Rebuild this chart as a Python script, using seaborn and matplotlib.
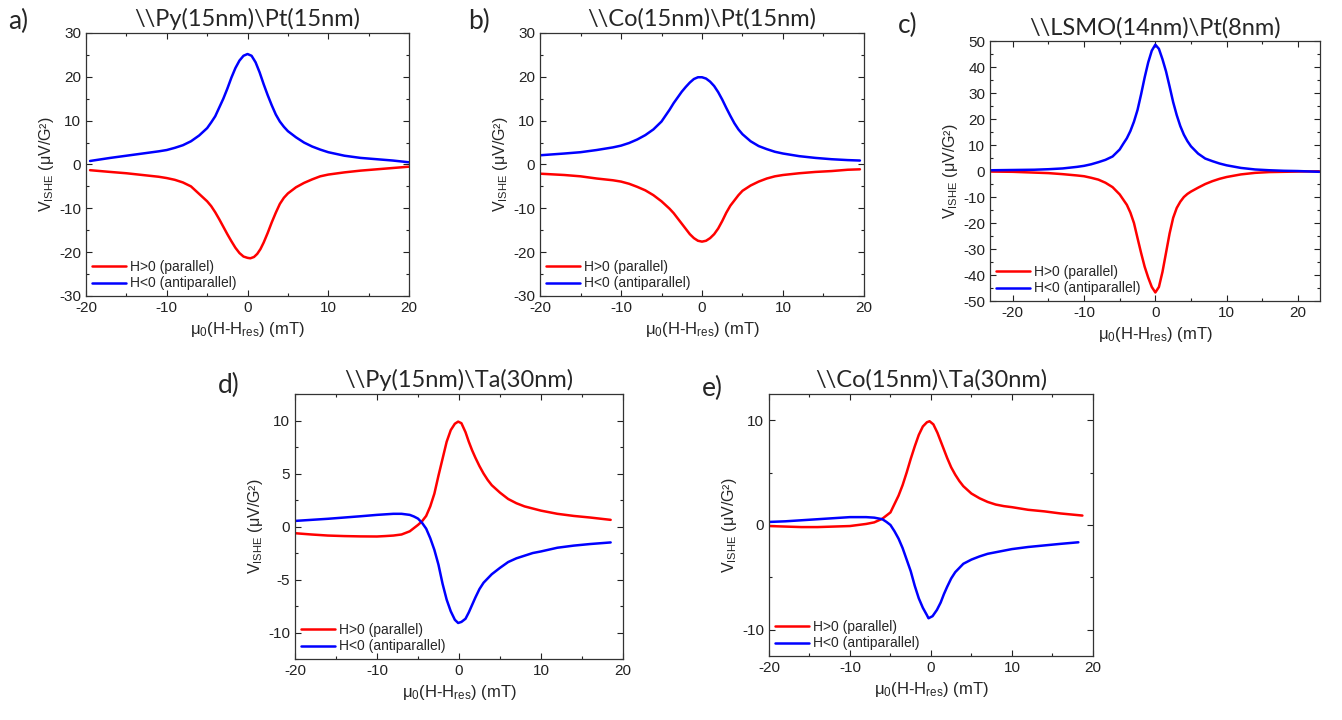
import pandas as pd
import seaborn as sns
import matplotlib.pyplot as plt
from matplotlib.ticker import MultipleLocator

# ---- data (x in mT, y in uV/G^2) ----
# a) Py(15nm)/Pt(15nm)
a_x_par = [-19.5, -17, -15, -13, -11, -10, -9, -8, -7, -6, -5, -4.5, -4, -3.5, -3, -2.5, -2, -1.5, -1, -0.5,
           0, 0.35, 0.8, 1.2, 1.6, 2, 2.5, 3, 3.5, 4, 4.5, 5, 6, 7, 8, 9, 10, 12, 14, 16, 18, 20]
a_par = [-1.3, -1.7, -2.0, -2.4, -2.8, -3.1, -3.5, -4.1, -5.0, -6.7, -8.4, -9.5, -10.9, -12.5, -14.2, -15.9,
         -17.5, -19.0, -20.2, -21.0, -21.3, -21.4, -21.1, -20.4, -19.3, -17.8, -15.6, -13.2, -11.0, -9.0,
         -7.6, -6.6, -5.2, -4.2, -3.4, -2.7, -2.3, -1.8, -1.4, -1.1, -0.8, -0.5]
a_x_anti = [-19.5, -17, -15, -13, -11, -10, -9, -8, -7, -6, -5, -4.5, -4, -3.5, -3, -2.5, -2, -1.5, -1, -0.5,
            0, 0.5, 1, 1.5, 2, 2.5, 3, 3.5, 4, 4.5, 5, 6, 7, 8, 9, 10, 12, 14, 16, 18, 20]
a_anti = [0.8, 1.5, 2.0, 2.5, 3.0, 3.3, 3.8, 4.4, 5.3, 6.6, 8.3, 9.6, 11.0, 13.0, 15.0, 17.3, 19.8, 22.0, 23.7,
          24.8, 25.2, 24.8, 23.3, 21.0, 18.3, 15.8, 13.5, 11.4, 9.8, 8.6, 7.6, 6.2, 5.0, 4.1, 3.4, 2.8, 2.0,
          1.5, 1.2, 0.9, 0.5]

# b) Co(15nm)/Pt(15nm)
b_x = [-20, -17, -15, -13, -11, -10, -9, -8, -7, -6, -5, -4, -3.5, -3, -2.5, -2, -1.5, -1, -0.5, 0,
       0.5, 1, 1.5, 2, 2.5, 3, 3.5, 4, 4.5, 5, 6, 7, 8, 9, 10, 12, 14, 16, 18, 19.5]
b_par = [-2.1, -2.4, -2.7, -3.2, -3.6, -3.9, -4.4, -5.1, -5.9, -7.0, -8.4, -10.1, -11.1, -12.3, -13.5, -14.7,
         -15.9, -16.8, -17.4, -17.6, -17.4, -16.8, -15.9, -14.6, -12.9, -11.0, -9.4, -8.2, -7.0, -6.0, -4.8,
         -3.9, -3.2, -2.7, -2.4, -2.0, -1.7, -1.5, -1.2, -1.1]
b_anti = [2.1, 2.5, 2.8, 3.3, 3.9, 4.3, 4.9, 5.7, 6.7, 8.0, 9.8, 12.5, 14.0, 15.3, 16.6, 17.7, 18.7, 19.5,
          19.9, 19.9, 19.6, 18.9, 17.9, 16.5, 14.8, 12.9, 11.1, 9.4, 8.0, 6.9, 5.3, 4.2, 3.5, 2.9, 2.5, 1.9,
          1.5, 1.2, 1.0, 0.9]

# c) LSMO(14nm)/Pt(8nm)
c_x = [-23, -20, -17, -15, -13, -11, -10, -9, -8, -7, -6, -5, -4.5, -4, -3.5, -3, -2.5, -2, -1.5, -1, -0.5,
       0, 0.5, 1, 1.5, 2, 2.5, 3, 3.5, 4, 4.5, 5, 6, 7, 8, 9, 10, 12, 14, 16, 18, 20, 23]
c_par = [-0.2, -0.3, -0.6, -0.8, -1.2, -1.7, -2.0, -2.6, -3.3, -4.5, -6.2, -9.0, -11.0, -13.0, -16.0, -20.0,
         -25.8, -31.5, -36.8, -41.0, -44.6, -46.7, -44.6, -38.8, -31.4, -24.0, -18.0, -14.2, -11.8, -10.0,
         -8.8, -7.9, -6.4, -5.0, -3.9, -3.0, -2.3, -1.3, -0.7, -0.4, -0.3, -0.2, -0.1]
c_anti = [0.3, 0.4, 0.5, 0.7, 1.0, 1.6, 2.0, 2.6, 3.4, 4.3, 5.6, 8.3, 10.5, 12.6, 15.4, 19.0, 23.5, 29.5,
          36.0, 41.8, 46.3, 48.6, 47.0, 43.0, 38.3, 32.5, 26.5, 21.5, 17.3, 14.0, 11.5, 9.5, 6.7, 4.8, 3.8,
          2.9, 2.2, 1.2, 0.6, 0.3, 0.1, 0.0, -0.3]

# d) Py(15nm)/Ta(30nm)
d_x = [-20, -18, -16, -14, -12, -10, -9, -8, -7, -6, -5.5, -5, -4.5, -4, -3.5, -3, -2.5, -2, -1.5, -1, -0.5,
       -0.1, 0.3, 0.8, 1.2, 1.6, 2, 2.5, 3, 3.5, 4, 5, 6, 7, 8, 9, 10, 12, 14, 16, 18.5]
d_par = [-0.63, -0.75, -0.85, -0.9, -0.93, -0.94, -0.9, -0.85, -0.75, -0.45, -0.15, 0.15, 0.5, 1.0, 1.9, 3.1,
         4.8, 6.4, 8.0, 9.1, 9.7, 9.9, 9.75, 8.9, 8.0, 7.2, 6.5, 5.7, 5.0, 4.4, 3.9, 3.2, 2.6, 2.2, 1.9, 1.7,
         1.5, 1.2, 1.0, 0.85, 0.63]
d_anti = [0.53, 0.63, 0.73, 0.85, 0.97, 1.1, 1.15, 1.2, 1.2, 1.1, 0.95, 0.75, 0.35, -0.2, -1.1, -2.2, -3.6,
          -5.4, -6.9, -8.0, -8.8, -9.1, -9.0, -8.7, -8.1, -7.4, -6.7, -5.9, -5.3, -4.9, -4.5, -3.9, -3.35,
          -3.0, -2.75, -2.5, -2.35, -2.0, -1.8, -1.65, -1.5]

# e) Co(15nm)/Ta(30nm)
e_x_par = [-20, -18, -16, -14, -12, -10, -9, -8, -7, -6, -5.5, -5, -4.5, -4, -3.5, -3, -2.5, -2, -1.5, -1,
           -0.5, -0.17, 0.3, 0.8, 1.2, 1.6, 2, 2.5, 3, 3.5, 4, 5, 6, 7, 8, 9, 10, 12, 14, 16, 18.7]
e_par = [-0.1, -0.15, -0.2, -0.2, -0.15, -0.1, 0.0, 0.1, 0.25, 0.6, 0.9, 1.2, 2.0, 2.8, 3.8, 5.0, 6.3, 7.5,
         8.6, 9.4, 9.8, 9.9, 9.6, 8.8, 8.0, 7.2, 6.4, 5.5, 4.8, 4.2, 3.7, 3.0, 2.55, 2.2, 1.95, 1.8, 1.7,
         1.45, 1.3, 1.1, 0.9]
e_x_anti = [-20, -18, -16, -14, -12, -10, -9, -8, -7, -6, -5.5, -5, -4.5, -4, -3.5, -3, -2.5, -2, -1.5, -1,
            -0.5, -0.3, 0.2, 0.74, 1.2, 1.6, 2, 2.5, 3, 3.5, 4, 5, 6, 7, 8, 9, 10, 12, 14, 16, 18.2]
e_anti = [0.29, 0.35, 0.45, 0.55, 0.65, 0.75, 0.75, 0.75, 0.7, 0.55, 0.3, 0.0, -0.6, -1.3, -2.2, -3.3, -4.4,
          -5.8, -7.0, -7.9, -8.6, -8.9, -8.7, -8.1, -7.4, -6.6, -5.9, -5.1, -4.5, -4.1, -3.7, -3.3, -3.0,
          -2.75, -2.6, -2.45, -2.3, -2.1, -1.95, -1.8, -1.65]

titles = [r'\\Py(15nm)\Pt(15nm)', r'\\Co(15nm)\Pt(15nm)', r'\\LSMO(14nm)\Pt(8nm)',
          r'\\Py(15nm)\Ta(30nm)', r'\\Co(15nm)\Ta(30nm)']
letters = ['a)', 'b)', 'c)', 'd)', 'e)']
labels = ['H>0 (parallel)', 'H<0 (antiparallel)']

sns.set_theme(style='ticks')
plt.rcParams['font.family'] = ['Liberation Sans', 'DejaVu Sans']
plt.rcParams['mathtext.fontset'] = 'custom'
plt.rcParams['mathtext.rm'] = 'Liberation Sans'
plt.rcParams['mathtext.it'] = 'Liberation Sans'
plt.rcParams['axes.unicode_minus'] = False

fig = plt.figure(figsize=(13.42, 7.2), dpi=100)

# axes boxes in figure fractions
boxes = [
    [0.0641, 0.5889, 0.2407, 0.3653],
    [0.4024, 0.5889, 0.2414, 0.3653],
    [0.7377, 0.5819, 0.2459, 0.3611],
    [0.2198, 0.0847, 0.2444, 0.3680],
    [0.5730, 0.0889, 0.2414, 0.3639],
]
panels = [
    (a_x_par, a_par, a_x_anti, a_anti, (-20, 20), (-30, 30), 10, 5),
    (b_x, b_par, b_x, b_anti, (-20, 20), (-30, 30), 10, 5),
    (c_x, c_par, c_x, c_anti, (-23.2, 23.1), (-50, 50), 10, 5),
    (d_x, d_par, d_x, d_anti, (-20, 20), (-12.5, 12.5), 5, 2.5),
    (e_x_par, e_par, e_x_anti, e_anti, (-20, 20), (-12.5, 12.5), 10, 5),
]
letter_pos = [(0.006, 0.97), (0.349, 0.97), (0.669, 0.965), (0.162, 0.465), (0.523, 0.46)]

for i, (box, p) in enumerate(zip(boxes, panels)):
    xp, yp, xa, ya, xlim, ylim, ymaj, ymin = p
    ax = fig.add_axes(box)
    sns.lineplot(x=xp, y=yp, ax=ax, color='#ff0000', lw=1.8, label=labels[0])
    sns.lineplot(x=xa, y=ya, ax=ax, color='#0000ff', lw=1.8, label=labels[1])
    ax.set_xlim(*xlim)
    ax.set_ylim(*ylim)
    ax.xaxis.set_major_locator(MultipleLocator(10))
    ax.xaxis.set_minor_locator(MultipleLocator(5))
    ax.yaxis.set_major_locator(MultipleLocator(ymaj))
    ax.yaxis.set_minor_locator(MultipleLocator(ymin))
    ax.tick_params(which='both', direction='in', top=True, right=True,
                   labelsize=11, colors='#222222', width=0.8)
    ax.tick_params(which='major', length=4)
    ax.tick_params(which='minor', length=2.5)
    for s in ax.spines.values():
        s.set_color('#333333')
        s.set_linewidth(0.9)
    ax.set_xlabel(r'$\mathregular{\mu_0}$(H-H$_\mathregular{res}$) (mT)', fontsize=12, labelpad=4)
    ax.set_ylabel(r'V$_\mathregular{ISHE}$ (μV/G²)', fontsize=11.5, labelpad=2)
    ax.set_title(titles[i], fontsize=17, family='Lato', pad=5)
    ax.legend(loc='lower left', frameon=False, fontsize=10, handlelength=2.5,
              handletextpad=0.3, labelspacing=0.2, borderpad=0.2, borderaxespad=0.2)
    fig.text(letter_pos[i][0], letter_pos[i][1], letters[i], fontsize=19,
             family='Lato', va='center', ha='left')

fig.savefig('out.png', dpi=100)
